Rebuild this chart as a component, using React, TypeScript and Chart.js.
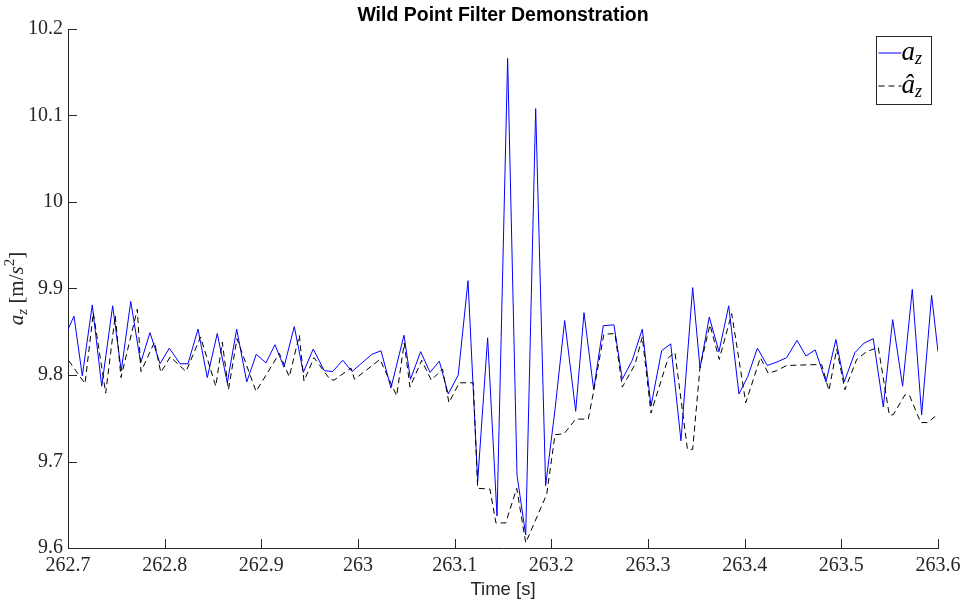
import { useEffect, useRef } from "react";
import { Chart, registerables } from "chart.js";

Chart.register(...registerables);

// Raw vertical acceleration samples [s, m/s^2]
const rawTime = [
  262.6948, 262.7062, 262.7148, 262.7251, 262.7349, 262.7462, 262.7551, 262.7649, 262.7752, 262.7848,
  262.7952, 262.8048, 262.8159, 262.8241, 262.8345, 262.8441, 262.8544, 262.8648, 262.8745, 262.8849,
  262.8948, 262.9048, 262.9141, 262.9234, 262.9341, 262.9434, 262.9537, 262.9651, 262.9738, 262.9842,
  262.9938, 263.0041, 263.0145, 263.0238, 263.0341, 263.0476, 263.0543, 263.0648, 263.0745, 263.0841,
  263.0934, 263.1037, 263.1138, 263.1238, 263.1341, 263.1438, 263.1548, 263.1645, 263.1735, 263.1838,
  263.1941, 263.2038, 263.2138, 263.2252, 263.2338, 263.2438, 263.2537, 263.2648, 263.2734, 263.2837,
  263.2941, 263.3031, 263.3141, 263.3235, 263.3341, 263.3462, 263.3538, 263.3634, 263.3734, 263.3835,
  263.3941, 263.4031, 263.4132, 263.4234, 263.4334, 263.4434, 263.4541, 263.4634, 263.473, 263.4841,
  263.4944, 263.503, 263.5141, 263.5237, 263.533, 263.5434, 263.5531, 263.5634, 263.5734, 263.5831,
  263.5934, 263.6,
];
const rawAz = [
  9.84, 9.868, 9.799, 9.881, 9.787, 9.88, 9.805, 9.885, 9.814, 9.849,
  9.813, 9.831, 9.813, 9.813, 9.853, 9.797, 9.848, 9.791, 9.853, 9.792,
  9.824, 9.814, 9.835, 9.809, 9.856, 9.803, 9.83, 9.805, 9.804, 9.817,
  9.804, 9.814, 9.824, 9.828, 9.785, 9.846, 9.795, 9.827, 9.803, 9.816,
  9.778, 9.8, 9.909, 9.677, 9.843, 9.637, 10.166, 9.684, 9.615, 10.108,
  9.672, 9.76, 9.863, 9.758, 9.872, 9.783, 9.857, 9.858, 9.795, 9.817,
  9.853, 9.764, 9.828, 9.836, 9.724, 9.901, 9.808, 9.867, 9.827, 9.88,
  9.778, 9.798, 9.831, 9.811, 9.815, 9.82, 9.84, 9.822, 9.829, 9.792,
  9.841, 9.792, 9.826, 9.837, 9.842, 9.763, 9.864, 9.787, 9.899, 9.754,
  9.892, 9.827,
];

// Wild-point filtered estimate
const filtTime = [
  262.6948, 262.7176, 262.7262, 262.739, 262.7489, 262.7548, 262.7717, 262.7755, 262.7895, 262.796,
  262.8058, 262.8221, 262.8371, 262.8529, 262.8596, 262.866, 262.8748, 262.8945, 262.9186, 262.9289,
  262.9393, 262.9441, 262.9545, 262.971, 262.9752, 262.9927, 262.9964, 263.0227, 263.04, 263.0478,
  263.0538, 263.0659, 263.0758, 263.0874, 263.0941, 263.1048, 263.1193, 263.1238, 263.1365, 263.1427,
  263.1528, 263.1642, 263.1735, 263.1952, 263.2038, 263.2131, 263.2252, 263.2382, 263.2441, 263.2543,
  263.2658, 263.2734, 263.2865, 263.2941, 263.3031, 263.321, 263.3279, 263.3408, 263.3462, 263.3538,
  263.3641, 263.3737, 263.3866, 263.4011, 263.4163, 263.4244, 263.4331, 263.4434, 263.4727, 263.4797,
  263.4872, 263.4952, 263.5037, 263.5159, 263.5262, 263.5382, 263.5496, 263.5537, 263.5658, 263.5703,
  263.5821, 263.5893, 263.5969, 263.6,
];
const filtAz = [
  9.826, 9.79, 9.872, 9.779, 9.869, 9.797, 9.876, 9.804, 9.838, 9.803,
  9.821, 9.804, 9.844, 9.787, 9.838, 9.783, 9.842, 9.781, 9.825, 9.798,
  9.846, 9.793, 9.82, 9.795, 9.794, 9.808, 9.795, 9.818, 9.776, 9.837,
  9.786, 9.817, 9.794, 9.807, 9.768, 9.791, 9.791, 9.669, 9.668, 9.629,
  9.629, 9.669, 9.606, 9.662, 9.731, 9.732, 9.749, 9.749, 9.783, 9.847,
  9.848, 9.786, 9.812, 9.844, 9.756, 9.82, 9.826, 9.714, 9.714, 9.809,
  9.858, 9.818, 9.871, 9.768, 9.82, 9.802, 9.805, 9.811, 9.812, 9.812,
  9.782, 9.83, 9.783, 9.818, 9.827, 9.832, 9.754, 9.754, 9.777, 9.777,
  9.745, 9.745, 9.752, 9.755,
];

const xTicks = [262.7, 262.8, 262.9, 263.0, 263.1, 263.2, 263.3, 263.4, 263.5, 263.6];
const xTickLabels = ["262.7", "262.8", "262.9", "263", "263.1", "263.2", "263.3", "263.4", "263.5", "263.6"];
const yTicks = [9.6, 9.7, 9.8, 9.9, 10.0, 10.1, 10.2];
const yTickLabels = ["9.6", "9.7", "9.8", "9.9", "10", "10.1", "10.2"];

const AXIS_COLOR = "#262626";
const RAW_COLOR = "#0000ff";
const FILT_COLOR = "#000000";
const SERIF = '"Liberation Serif", "DejaVu Serif", serif';
const SANS = '"Liberation Sans", Arial, Helvetica, sans-serif';

type Piece = { text: string; size: number; italic?: boolean; dy?: number };

function drawPieces(ctx: CanvasRenderingContext2D, pieces: Piece[], x0: number, y0: number) {
  let x = x0;
  for (const p of pieces) {
    ctx.font = `${p.italic ? "italic " : ""}${p.size}px ${SERIF}`;
    ctx.fillText(p.text, x, y0 + (p.dy || 0));
    x += ctx.measureText(p.text).width;
  }
}

function piecesWidth(ctx: CanvasRenderingContext2D, pieces: Piece[]) {
  let w = 0;
  for (const p of pieces) {
    ctx.font = `${p.italic ? "italic " : ""}${p.size}px ${SERIF}`;
    w += ctx.measureText(p.text).width;
  }
  return w;
}

const yLabelPieces: Piece[] = [
  { text: "a", size: 21, italic: true },
  { text: "z", size: 15, italic: true, dy: 4 },
  { text: " [m/", size: 21 },
  { text: "s", size: 21, italic: true },
  { text: "2", size: 15, dy: -9 },
  { text: "]", size: 21 },
];

const axesDecor = {
  id: "axesDecor",
  afterDraw(chart: Chart) {
    const { ctx, chartArea, scales } = chart;
    const xs = scales.x;
    const ys = scales.y;
    ctx.save();

    // inward tick marks on left and bottom axes
    const tl = 9;
    ctx.strokeStyle = AXIS_COLOR;
    ctx.lineWidth = 1;
    ctx.beginPath();
    for (const v of yTicks) {
      const py = Math.round(ys.getPixelForValue(v)) + 0.5;
      ctx.moveTo(chartArea.left, py);
      ctx.lineTo(chartArea.left + tl, py);
    }
    for (const v of xTicks) {
      const px = Math.round(xs.getPixelForValue(v)) + 0.5;
      ctx.moveTo(px, chartArea.bottom);
      ctx.lineTo(px, chartArea.bottom - tl);
    }
    ctx.stroke();

    // rotated y-axis label with subscript and superscript
    ctx.fillStyle = AXIS_COLOR;
    ctx.textBaseline = "alphabetic";
    ctx.textAlign = "left";
    const midY = (chartArea.top + chartArea.bottom) / 2;
    ctx.save();
    ctx.translate(23, midY);
    ctx.rotate(-Math.PI / 2);
    const w = piecesWidth(ctx, yLabelPieces);
    drawPieces(ctx, yLabelPieces, -w / 2, 0);
    ctx.restore();

    // legend box
    const bw = 55;
    const bh = 68;
    const bx = Math.round(chartArea.right - 62) + 0.5;
    const by = Math.round(chartArea.top + 7) + 0.5;
    ctx.fillStyle = "#ffffff";
    ctx.fillRect(bx, by, bw, bh);
    ctx.strokeStyle = AXIS_COLOR;
    ctx.lineWidth = 1;
    ctx.strokeRect(bx, by, bw, bh);

    // legend line samples
    ctx.lineWidth = 1;
    ctx.strokeStyle = RAW_COLOR;
    ctx.beginPath();
    ctx.moveTo(bx + 2, by + 16.5);
    ctx.lineTo(bx + 25, by + 16.5);
    ctx.stroke();

    ctx.strokeStyle = FILT_COLOR;
    ctx.setLineDash([6, 4]);
    ctx.beginPath();
    ctx.moveTo(bx + 2, by + 49.5);
    ctx.lineTo(bx + 25, by + 49.5);
    ctx.stroke();
    ctx.setLineDash([]);

    ctx.fillStyle = "#000000";
    drawPieces(
      ctx,
      [
        { text: "a", size: 27, italic: true },
        { text: "z", size: 18, italic: true, dy: 4 },
      ],
      bx + 25,
      by + 23
    );
    drawPieces(
      ctx,
      [
        { text: "\u00e2", size: 27, italic: true },
        { text: "z", size: 18, italic: true, dy: 4 },
      ],
      bx + 25,
      by + 56
    );

    ctx.restore();
  },
};

export default function App() {
  const canvasRef = useRef<HTMLCanvasElement | null>(null);

  useEffect(() => {
    document.body.style.margin = "0";
    const canvas = canvasRef.current;
    if (!canvas) return;

    const rawPoints = rawTime.map((t, i) => ({ x: t, y: rawAz[i] }));
    const filtPoints = filtTime.map((t, i) => ({ x: t, y: filtAz[i] }));

    const chart = new Chart(canvas, {
      type: "line",
      data: {
        datasets: [
          {
            label: "a_z",
            data: rawPoints,
            borderColor: RAW_COLOR,
            borderWidth: 1,
            pointRadius: 0,
            tension: 0,
            fill: false,
            order: 2,
          },
          {
            label: "â_z",
            data: filtPoints,
            borderColor: FILT_COLOR,
            borderWidth: 1,
            borderDash: [6, 4],
            pointRadius: 0,
            tension: 0,
            fill: false,
            order: 1,
          },
        ],
      },
      options: {
        responsive: false,
        animation: false,
        devicePixelRatio: 1,
        layout: { padding: { left: 0, right: 30, top: 0, bottom: 0 } },
        plugins: {
          legend: { display: false },
          tooltip: { enabled: false },
          title: {
            display: true,
            text: "Wild Point Filter Demonstration",
            color: "#000000",
            fullSize: false,
            font: { family: SANS, size: 19.5, weight: "bold" },
            padding: { top: 3.5, bottom: 2.1 },
          },
        },
        scales: {
          x: {
            type: "linear",
            min: 262.7,
            max: 263.6,
            afterBuildTicks: (axis: any) => {
              axis.ticks = xTicks.map((value) => ({ value }));
            },
            afterFit: (axis: any) => {
              axis.height = 55;
              axis.paddingLeft = 0;
              axis.paddingRight = 0;
            },
            grid: { display: false, drawTicks: false, tickLength: 0 },
            border: { display: true, color: AXIS_COLOR, width: 1 },
            ticks: {
              autoSkip: false,
              maxRotation: 0,
              padding: 6,
              color: AXIS_COLOR,
              font: { family: SERIF, size: 20 },
              callback: (_v: any, i: number) => xTickLabels[i],
            },
            title: {
              display: true,
              text: "Time [s]",
              color: AXIS_COLOR,
              font: { family: SANS, size: 18.5 },
              padding: { top: 0, bottom: 2 },
            },
          },
          y: {
            type: "linear",
            min: 9.6,
            max: 10.2,
            afterBuildTicks: (axis: any) => {
              axis.ticks = yTicks.map((value) => ({ value }));
            },
            afterFit: (axis: any) => {
              axis.width = 68;
              axis.paddingTop = 0;
              axis.paddingBottom = 0;
            },
            grid: { display: false, drawTicks: false, tickLength: 0 },
            border: { display: true, color: AXIS_COLOR, width: 1 },
            ticks: {
              autoSkip: false,
              padding: 5,
              color: AXIS_COLOR,
              font: { family: SERIF, size: 20 },
              callback: (_v: any, i: number) => yTickLabels[i],
            },
          },
        },
      },
      plugins: [axesDecor],
    });

    return () => {
      chart.destroy();
    };
  }, []);

  return (
    <div style={{ width: 968, height: 603, background: "#ffffff" }}>
      <canvas ref={canvasRef} width={968} height={603} />
    </div>
  );
}
